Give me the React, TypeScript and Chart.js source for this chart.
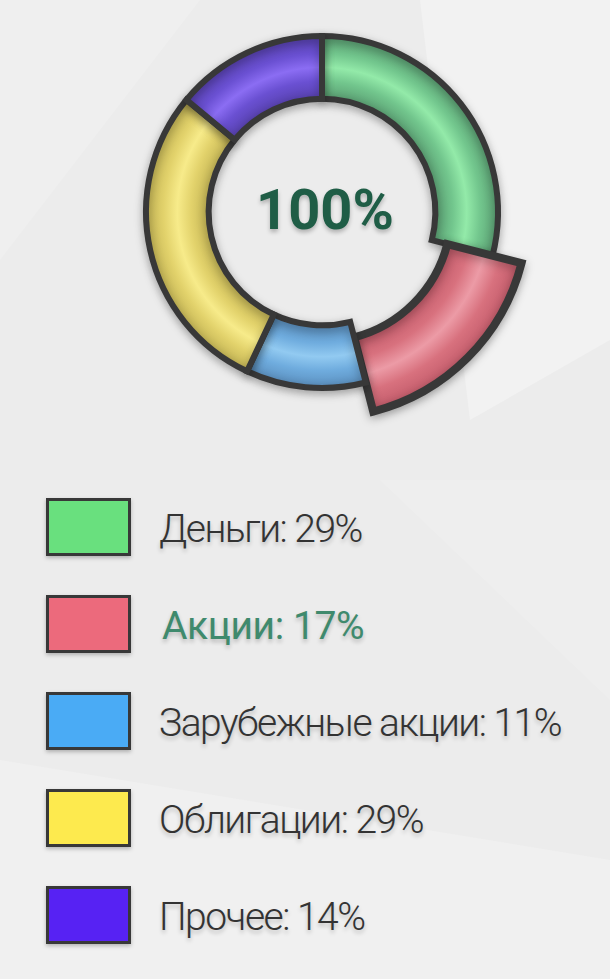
import React, { useEffect, useRef } from "react";
import { Chart, registerables } from "chart.js";

Chart.register(...registerables);

// ---- data ----
const categories = ["Деньги", "Акции", "Зарубежные акции", "Облигации", "Прочее"];
const shares = [29, 17, 11, 29, 14];
const centerLabel = "100%";
const highlighted = 1;

// ---- colours ----
const ringEdge = ["#5a9e72", "#c25b6a", "#5a8ebd", "#c2b354", "#5741ae"];
const ringMid = ["#72c68d", "#d8717e", "#6facde", "#e2d26b", "#6a50d2"];
const ringGlow = ["#93eaa9", "#ec9ba6", "#92caf1", "#f7eb8a", "#8b6df3"];
const legendColors = ["#69e07e", "#ec6a7c", "#4aabf5", "#fdea4e", "#5722f3"];

// ---- geometry ----
const SIZE = 440;
const CX = 322;
const CY = 212;
const R_OUT = 176;
const CUTOUT = 0.644;
const EXPAND_IN = 16;
const EXPAND_OUT = 30;

const explodePlugin = {
  id: "explodeSlice",
  afterDatasetUpdate(chart: any, args: any) {
    if (args.index !== 0) return;
    const arc: any = chart.getDatasetMeta(0).data[highlighted];
    if (!arc) return;
    arc.innerRadius += EXPAND_IN;
    arc.outerRadius += EXPAND_OUT;
  },
};

const shadowPlugin = {
  id: "ringShadow",
  beforeDatasetsDraw(chart: any) {
    const ctx = chart.ctx;
    ctx.save();
    ctx.shadowColor = "rgba(0,0,0,0.28)";
    ctx.shadowBlur = 10;
    ctx.shadowOffsetX = 0;
    ctx.shadowOffsetY = 3;
  },
  afterDatasetsDraw(chart: any) {
    chart.ctx.restore();
  },
};

function ringFill(c: any) {
  const i = c.dataIndex;
  if (i === undefined || i === null) return ringMid[0];
  const chart = c.chart;
  const area = chart.chartArea;
  if (!area) return ringMid[i];
  const cx = (area.left + area.right) / 2;
  const cy = (area.top + area.bottom) / 2;
  let r0 = R_OUT * CUTOUT;
  let r1 = R_OUT;
  if (i === highlighted) {
    r0 += EXPAND_IN;
    r1 += EXPAND_OUT;
  }
  const g = chart.ctx.createRadialGradient(cx, cy, r0, cx, cy, r1);
  g.addColorStop(0, ringEdge[i]);
  g.addColorStop(0.28, ringMid[i]);
  g.addColorStop(0.5, ringGlow[i]);
  g.addColorStop(0.72, ringMid[i]);
  g.addColorStop(1, ringEdge[i]);
  return g;
}

export default function App() {
  const canvasRef = useRef<HTMLCanvasElement | null>(null);

  useEffect(() => {
    if (!canvasRef.current) return;
    const chart = new Chart(canvasRef.current, {
      type: "doughnut",
      data: {
        labels: categories,
        datasets: [
          {
            data: shares,
            backgroundColor: ringFill as any,
            borderColor: "#383838",
            borderWidth: shares.map((_, i) => (i === highlighted ? 8 : 6)),
            borderJoinStyle: "miter" as any,
          },
        ],
      },
      options: {
        responsive: false,
        animation: false,
        devicePixelRatio: 1,
        events: [],
        radius: R_OUT,
        cutout: `${CUTOUT * 100}%`,
        rotation: 0,
        layout: { padding: 0 },
        plugins: {
          legend: { display: false },
          tooltip: { enabled: false },
        },
      },
      plugins: [explodePlugin, shadowPlugin],
    });
    return () => chart.destroy();
  }, []);

  const rowTop = 498;
  const rowStep = 97;

  return (
    <div
      style={{
        position: "fixed",
        left: 0,
        top: 0,
        width: 610,
        height: 979,
        overflow: "hidden",
        background: "#ececec",
        fontFamily: "Roboto, sans-serif",
      }}
    >
      {/* subtle background facets */}
      <div
        style={{
          position: "absolute",
          inset: 0,
          background: "#f2f2f2",
          clipPath: "polygon(420px 0, 610px 0, 610px 340px, 470px 420px)",
        }}
      />
      <div
        style={{
          position: "absolute",
          inset: 0,
          background: "#efefef",
          clipPath: "polygon(0 0, 200px 0, 0 260px)",
        }}
      />
      <div
        style={{
          position: "absolute",
          inset: 0,
          background: "#f0f0f0",
          clipPath: "polygon(0 760px, 610px 860px, 610px 979px, 0 979px)",
        }}
      />
      <div
        style={{
          position: "absolute",
          inset: 0,
          background: "#eeeeee",
          clipPath: "polygon(380px 480px, 610px 480px, 610px 700px)",
        }}
      />

      <canvas
        ref={canvasRef}
        width={SIZE}
        height={SIZE}
        style={{
          position: "absolute",
          left: CX - SIZE / 2,
          top: CY - SIZE / 2,
          width: SIZE,
          height: SIZE,
        }}
      />

      <div
        style={{
          position: "absolute",
          left: CX + 3 - 100,
          top: CY - 2 - 40,
          width: 200,
          height: 80,
          lineHeight: "80px",
          textAlign: "center",
          fontWeight: 700,
          fontSize: 56,
          color: "#1f5d46",
          textShadow: "0 3px 4px rgba(0,0,0,0.25)",
        }}
      >
        {centerLabel}
      </div>

      {categories.map((name, i) => {
        const top = rowTop + i * rowStep;
        const active = i === highlighted;
        return (
          <React.Fragment key={name}>
            <div
              style={{
                position: "absolute",
                left: 46,
                top,
                width: 85,
                height: 58,
                boxSizing: "border-box",
                border: "3px solid #383838",
                background: legendColors[i],
                boxShadow: "0 2px 4px rgba(0,0,0,0.25)",
              }}
            />
            <div
              style={{
                position: "absolute",
                left: active ? 162 : 159,
                top: top + 29 - 28,
                height: 60,
                lineHeight: "60px",
                whiteSpace: "nowrap",
                fontSize: 39,
                letterSpacing: active ? "-0.4px" : "-1.5px",
                fontWeight: active ? 400 : 300,
                color: active ? "#3f8a6d" : "#333333",
                textShadow: "0 3px 4px rgba(0,0,0,0.22)",
              }}
            >
              {`${name}: ${shares[i]}%`}
            </div>
          </React.Fragment>
        );
      })}
    </div>
  );
}
